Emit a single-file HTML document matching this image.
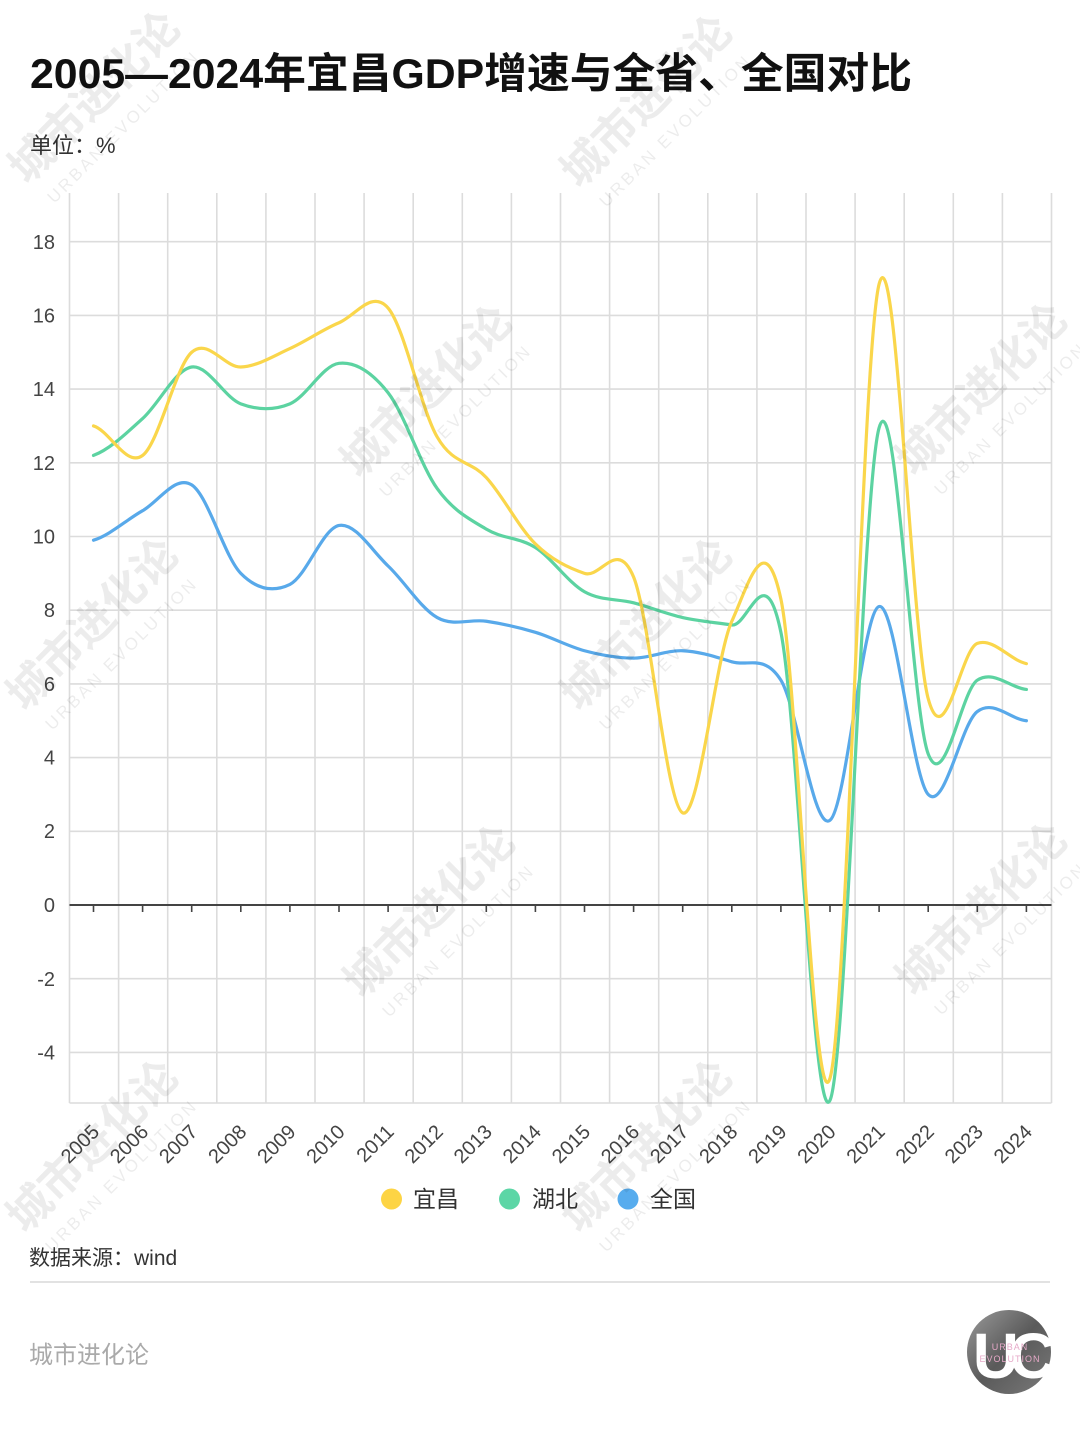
<!DOCTYPE html>
<html>
<head>
<meta charset="utf-8">
<style>
  html,body{margin:0;padding:0;background:#fff;width:1080px;height:1440px;overflow:hidden;}
  svg{display:block;overflow:hidden;}
  .t{font-family:"Liberation Sans","Noto Sans CJK SC",sans-serif;}
</style>
</head>
<body>
<svg width="1080" height="1440" viewBox="0 0 1080 1440" xmlns="http://www.w3.org/2000/svg">
  <defs>
    <linearGradient id="lg" x1="0" y1="0" x2="1" y2="1">
      <stop offset="0" stop-color="#9a9a9a"/>
      <stop offset="0.5" stop-color="#5a5a5a"/>
      <stop offset="1" stop-color="#7a7a7a"/>
    </linearGradient>
  </defs>
  <rect width="1080" height="1440" fill="#fff"/>

  <!-- Title -->
  <text class="t" x="30" y="88" font-size="42" font-weight="bold" fill="#111" textLength="882" lengthAdjust="spacingAndGlyphs">2005—2024年宜昌GDP增速与全省、全国对比</text>
  <text class="t" x="30" y="153" font-size="22" fill="#333">单位：%</text>

  <!-- Grid -->
  <g stroke="#dcdcdc" stroke-width="1.6" fill="none">
    <path d="M69.5 193V1103M118.6 193V1103M167.7 193V1103M216.8 193V1103M265.9 193V1103M315 193V1103M364.1 193V1103M413.2 193V1103M462.3 193V1103M511.4 193V1103M560.5 193V1103M609.6 193V1103M658.7 193V1103M707.8 193V1103M756.9 193V1103M806 193V1103M855.1 193V1103M904.2 193V1103M953.3 193V1103M1002.4 193V1103M1051.5 193V1103"/>
    <path d="M69.5 241.7H1051.5M69.5 315.4H1051.5M69.5 389.1H1051.5M69.5 462.8H1051.5M69.5 536.5H1051.5M69.5 610.2H1051.5M69.5 683.9H1051.5M69.5 757.6H1051.5M69.5 831.3H1051.5M69.5 978.7H1051.5M69.5 1052.4H1051.5M69.5 1103H1051.5"/>
  </g>

  <!-- Zero axis and ticks -->
  <g stroke="#444" fill="none">
    <path d="M69.5 905H1051.5" stroke-width="2"/>
    <path stroke-width="1.6" d="M93.5 905v7M142.6 905v7M191.7 905v7M240.8 905v7M289.9 905v7M339 905v7M388.1 905v7M437.2 905v7M486.3 905v7M535.4 905v7M584.5 905v7M633.6 905v7M682.7 905v7M731.8 905v7M780.9 905v7M830 905v7M879.1 905v7M928.2 905v7M977.3 905v7M1026.4 905v7"/>
  </g>

  <!-- Y labels -->
  <g class="t" font-size="20" fill="#444" text-anchor="end">
    <text x="55" y="249">18</text>
    <text x="55" y="322.5">16</text>
    <text x="55" y="396">14</text>
    <text x="55" y="470">12</text>
    <text x="55" y="543.5">10</text>
    <text x="55" y="617">8</text>
    <text x="55" y="691">6</text>
    <text x="55" y="764.5">4</text>
    <text x="55" y="838">2</text>
    <text x="55" y="912">0</text>
    <text x="55" y="986">-2</text>
    <text x="55" y="1059.5">-4</text>
  </g>

  <!-- X labels -->
  <g class="t" font-size="20" fill="#444" text-anchor="end">
    <text transform="translate(100.5,1133) rotate(-45)">2005</text>
    <text transform="translate(149.6,1133) rotate(-45)">2006</text>
    <text transform="translate(198.7,1133) rotate(-45)">2007</text>
    <text transform="translate(247.8,1133) rotate(-45)">2008</text>
    <text transform="translate(296.9,1133) rotate(-45)">2009</text>
    <text transform="translate(346,1133) rotate(-45)">2010</text>
    <text transform="translate(395.1,1133) rotate(-45)">2011</text>
    <text transform="translate(444.2,1133) rotate(-45)">2012</text>
    <text transform="translate(493.3,1133) rotate(-45)">2013</text>
    <text transform="translate(542.4,1133) rotate(-45)">2014</text>
    <text transform="translate(591.5,1133) rotate(-45)">2015</text>
    <text transform="translate(640.6,1133) rotate(-45)">2016</text>
    <text transform="translate(689.7,1133) rotate(-45)">2017</text>
    <text transform="translate(738.8,1133) rotate(-45)">2018</text>
    <text transform="translate(787.9,1133) rotate(-45)">2019</text>
    <text transform="translate(837,1133) rotate(-45)">2020</text>
    <text transform="translate(886.1,1133) rotate(-45)">2021</text>
    <text transform="translate(935.2,1133) rotate(-45)">2022</text>
    <text transform="translate(984.3,1133) rotate(-45)">2023</text>
    <text transform="translate(1033.4,1133) rotate(-45)">2024</text>
  </g>

  <!-- Series -->
  <g transform="matrix(49.1 0 0 -36.85 93.5 905)" fill="none" stroke-linecap="round" stroke-linejoin="round">
    <!-- 全国 -->
    <path vector-effect="non-scaling-stroke" stroke="#58A9EA" stroke-width="3.2" d="M0 9.9 C0.333 10.033 0.667 10.45 1 10.7 C1.333 10.95 1.667 11.683 2 11.4 C2.333 11.117 2.667 9.45 3 9 C3.333 8.55 3.667 8.483 4 8.7 C4.333 8.917 4.667 10.217 5 10.3 C5.333 10.383 5.667 9.617 6 9.2 C6.333 8.783 6.667 8.05 7 7.8 C7.333 7.55 7.667 7.767 8 7.7 C8.333 7.633 8.667 7.533 9 7.4 C9.333 7.267 9.667 7.017 10 6.9 C10.333 6.783 10.667 6.7 11 6.7 C11.333 6.7 11.667 6.917 12 6.9 C12.333 6.883 12.667 6.733 13 6.6 C13.333 6.467 13.667 6.817 14 6.1 C14.333 5.383 14.667 1.967 15 2.3 C15.333 2.633 15.667 7.983 16 8.1 C16.333 8.217 16.667 3.475 17 3 C17.333 2.525 17.667 4.917 18 5.25 C18.333 5.583 18.667 5.042 19 5"/>
    <!-- 湖北 -->
    <path vector-effect="non-scaling-stroke" stroke="#5CD3A1" stroke-width="3.2" d="M0 12.2 C0.333 12.367 0.667 12.8 1 13.2 C1.333 13.6 1.667 14.533 2 14.6 C2.333 14.667 2.667 13.767 3 13.6 C3.333 13.433 3.667 13.417 4 13.6 C4.333 13.783 4.667 14.65 5 14.7 C5.333 14.75 5.667 14.467 6 13.9 C6.333 13.333 6.667 11.917 7 11.3 C7.333 10.683 7.667 10.467 8 10.2 C8.333 9.933 8.667 9.983 9 9.7 C9.333 9.417 9.667 8.75 10 8.5 C10.333 8.25 10.667 8.317 11 8.2 C11.333 8.083 11.667 7.9 12 7.8 C12.333 7.7 12.667 7.667 13 7.6 C13.333 7.533 13.667 9.55 14 7.4 C14.333 5.25 14.667 -6.225 15 -5.3 C15.333 -4.375 15.667 11.383 16 12.95 C16.333 14.517 16.667 5.242 17 4.1 C17.333 2.958 17.667 5.808 18 6.1 C18.333 6.392 18.667 5.892 19 5.85"/>
    <!-- 宜昌 -->
    <path vector-effect="non-scaling-stroke" stroke="#FAD64B" stroke-width="3.2" d="M0 13 C0.333 12.867 0.667 11.867 1 12.2 C1.333 12.533 1.667 14.6 2 15 C2.333 15.4 2.667 14.583 3 14.6 C3.333 14.617 3.667 14.9 4 15.1 C4.333 15.3 4.667 15.617 5 15.8 C5.333 15.983 5.667 16.717 6 16.2 C6.333 15.683 6.667 13.467 7 12.7 C7.333 11.933 7.667 12.083 8 11.6 C8.333 11.117 8.667 10.233 9 9.8 C9.333 9.367 9.667 9.15 10 9 C10.333 8.85 10.667 9.983 11 8.9 C11.333 7.817 11.667 2.7 12 2.5 C12.333 2.3 12.667 6.733 13 7.7 C13.333 8.667 13.667 10.367 14 8.3 C14.333 6.233 14.667 -6.125 15 -4.7 C15.333 -3.275 15.667 15.133 16 16.85 C16.333 18.567 16.667 7.225 17 5.6 C17.333 3.975 17.667 6.942 18 7.1 C18.333 7.258 18.667 6.642 19 6.55"/>
  </g>

  <!-- Legend -->
  <circle cx="391.5" cy="1199" r="10.5" fill="#FDD444"/>
  <circle cx="509.5" cy="1199" r="10.5" fill="#5CD6A6"/>
  <circle cx="628" cy="1199" r="10.5" fill="#57ACEE"/>
  <g class="t" font-size="23" fill="#333">
    <text x="413" y="1207">宜昌</text>
    <text x="532" y="1207">湖北</text>
    <text x="650" y="1207">全国</text>
  </g>

  <!-- Footer -->
  <text class="t" x="29" y="1265" font-size="21" fill="#333">数据来源：wind</text>
  <line x1="30" y1="1282" x2="1050" y2="1282" stroke="#e2e2e2" stroke-width="2"/>
  <text class="t" x="29" y="1363" font-size="24" fill="#aaa">城市进化论</text>

  <!-- Logo -->
  <circle cx="1009" cy="1352" r="42" fill="url(#lg)"/>
  <text class="t" x="1009" y="1378" font-size="64" font-weight="bold" fill="#fff" text-anchor="middle" letter-spacing="-10">UC</text>
  <text class="t" x="1010" y="1350" font-size="9" fill="#e6a9c8" text-anchor="middle" letter-spacing="1">URBAN</text>
  <text class="t" x="1010" y="1362" font-size="9" fill="#e6a9c8" text-anchor="middle" letter-spacing="1">EVOLUTION</text>

  <!-- Watermarks -->
  <g class="t" fill="#000" fill-opacity="0.075" text-anchor="middle">
    <g transform="translate(105,108) rotate(-45)"><text font-size="44" font-weight="bold">城市进化论</text><text y="32" font-size="17" letter-spacing="3">URBAN EVOLUTION</text></g>
    <g transform="translate(657,112) rotate(-45)"><text font-size="44" font-weight="bold">城市进化论</text><text y="32" font-size="17" letter-spacing="3">URBAN EVOLUTION</text></g>
    <g transform="translate(437,402) rotate(-45)"><text font-size="44" font-weight="bold">城市进化论</text><text y="32" font-size="17" letter-spacing="3">URBAN EVOLUTION</text></g>
    <g transform="translate(992,400) rotate(-45)"><text font-size="44" font-weight="bold">城市进化论</text><text y="32" font-size="17" letter-spacing="3">URBAN EVOLUTION</text></g>
    <g transform="translate(103,635) rotate(-45)"><text font-size="44" font-weight="bold">城市进化论</text><text y="32" font-size="17" letter-spacing="3">URBAN EVOLUTION</text></g>
    <g transform="translate(657,635) rotate(-45)"><text font-size="44" font-weight="bold">城市进化论</text><text y="32" font-size="17" letter-spacing="3">URBAN EVOLUTION</text></g>
    <g transform="translate(440,922) rotate(-45)"><text font-size="44" font-weight="bold">城市进化论</text><text y="32" font-size="17" letter-spacing="3">URBAN EVOLUTION</text></g>
    <g transform="translate(992,920) rotate(-45)"><text font-size="44" font-weight="bold">城市进化论</text><text y="32" font-size="17" letter-spacing="3">URBAN EVOLUTION</text></g>
    <g transform="translate(103,1157) rotate(-45)"><text font-size="44" font-weight="bold">城市进化论</text><text y="32" font-size="17" letter-spacing="3">URBAN EVOLUTION</text></g>
    <g transform="translate(657,1157) rotate(-45)"><text font-size="44" font-weight="bold">城市进化论</text><text y="32" font-size="17" letter-spacing="3">URBAN EVOLUTION</text></g>
  </g>
</svg>
</body>
</html>
